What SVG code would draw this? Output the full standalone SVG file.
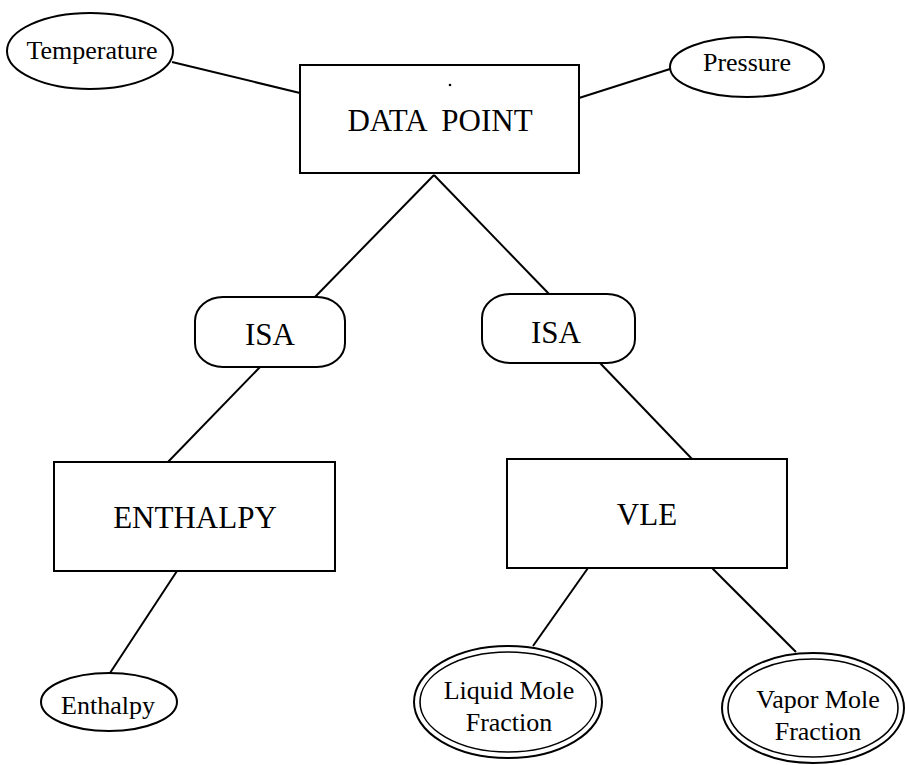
<svg xmlns="http://www.w3.org/2000/svg" width="905" height="765" viewBox="0 0 905 765">
  <style>
    .shape { fill: #fff; stroke: #000; stroke-width: 2; }
    .thin { fill: none; stroke: #000; stroke-width: 1.6; }
    .link { stroke: #000; stroke-width: 2; fill: none; }
    .big { font-family: "Liberation Serif", "Times New Roman", serif; font-size: 31px; text-anchor: middle; fill: #000; }
    .small { font-family: "Liberation Serif", "Times New Roman", serif; font-size: 26px; text-anchor: middle; fill: #000; }
  </style>
  <rect width="905" height="765" fill="#fff"/>

  <!-- connectors -->
  <g id="connectors" class="link">
    <line x1="172" y1="62" x2="300" y2="93"/>
    <line x1="670" y1="69" x2="579" y2="98"/>
    <line x1="434" y1="175" x2="315" y2="297"/>
    <line x1="434" y1="175" x2="550" y2="295"/>
    <line x1="260" y1="367" x2="167" y2="463"/>
    <line x1="600" y1="363" x2="692" y2="459"/>
    <line x1="177" y1="571" x2="110" y2="673"/>
    <line x1="588" y1="568" x2="533" y2="646"/>
    <line x1="712" y1="568" x2="796" y2="652"/>
  </g>

  <!-- attributes of DATA POINT -->
  <g id="temperature">
    <ellipse class="shape" cx="90" cy="51" rx="83" ry="38"/>
    <text class="small" x="92" y="59">Temperature</text>
  </g>
  <g id="pressure">
    <ellipse class="shape" cx="747" cy="67" rx="77" ry="30"/>
    <text class="small" x="747" y="71">Pressure</text>
  </g>

  <!-- entity: DATA POINT -->
  <g id="data-point">
    <rect class="shape" x="300" y="65" width="279" height="108"/>
    <circle cx="450" cy="85" r="1.3" fill="#000"/>
    <text class="big" x="440" y="131" xml:space="preserve">DATA  POINT</text>
  </g>

  <!-- ISA relationships -->
  <g id="isa-left">
    <rect class="shape" x="195" y="297" width="150" height="70" rx="28" ry="24"/>
    <text class="big" x="270" y="345">ISA</text>
  </g>
  <g id="isa-right">
    <rect class="shape" x="482" y="294" width="153" height="69" rx="28" ry="24"/>
    <text class="big" x="556" y="343">ISA</text>
  </g>

  <!-- subtype entities -->
  <g id="enthalpy-entity">
    <rect class="shape" x="54" y="462" width="281" height="109"/>
    <text class="big" x="195" y="528">ENTHALPY</text>
  </g>
  <g id="vle">
    <rect class="shape" x="507" y="459" width="280" height="109"/>
    <text class="big" x="647" y="525">VLE</text>
  </g>

  <!-- attributes of subtypes -->
  <g id="enthalpy-attr">
    <ellipse class="shape" cx="109" cy="702" rx="68" ry="29"/>
    <text class="small" x="108" y="714">Enthalpy</text>
  </g>
  <g id="liquid-mole-fraction">
    <ellipse class="shape" cx="508" cy="702" rx="94" ry="56"/>
    <ellipse class="thin" cx="508" cy="702" rx="88" ry="50"/>
    <text class="small" x="509" y="699">Liquid Mole</text>
    <text class="small" x="509" y="731">Fraction</text>
  </g>
  <g id="vapor-mole-fraction">
    <ellipse class="shape" cx="813" cy="708" rx="91" ry="55"/>
    <ellipse class="thin" cx="813" cy="708" rx="85" ry="49"/>
    <text class="small" x="818" y="708">Vapor Mole</text>
    <text class="small" x="818" y="740">Fraction</text>
  </g>
</svg>
